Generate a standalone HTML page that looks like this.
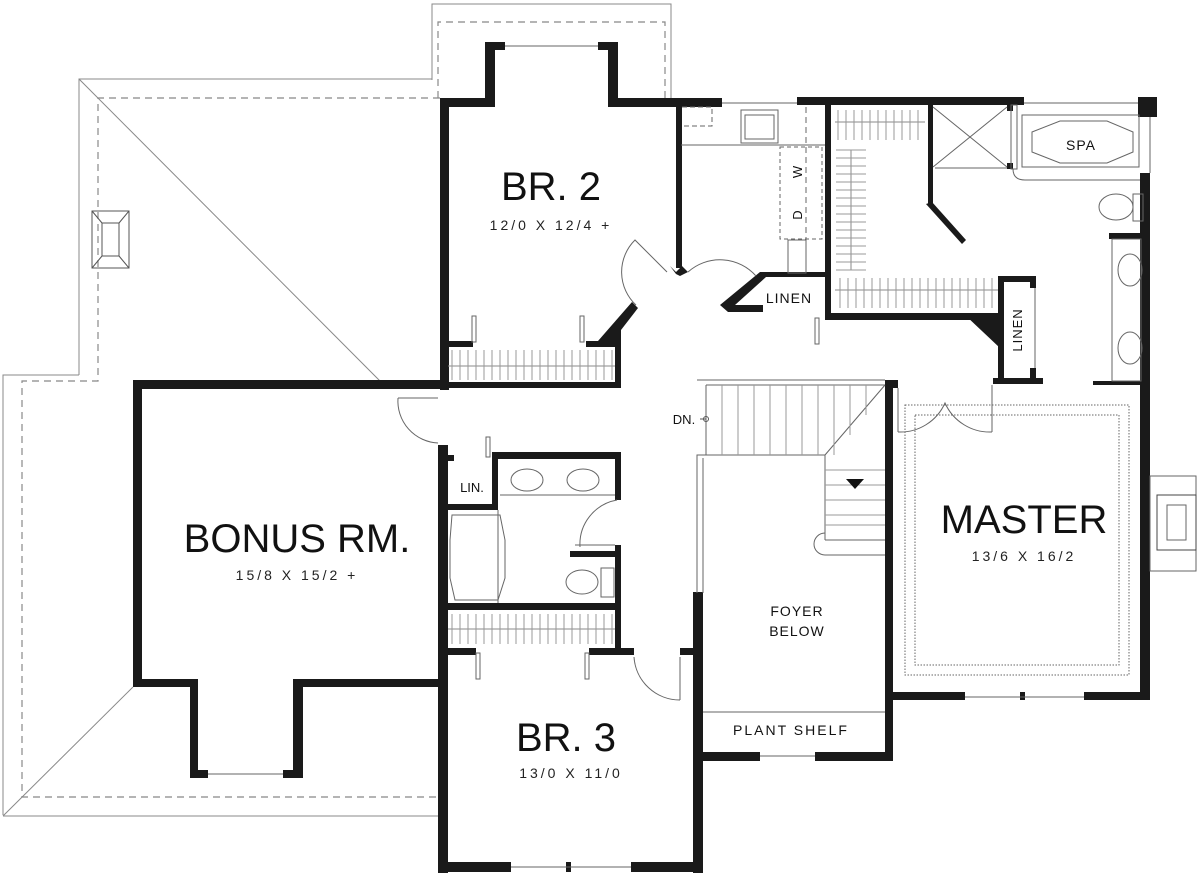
<!DOCTYPE html>
<html><head><meta charset="utf-8"><style>
html,body{margin:0;padding:0;background:#fff;width:1200px;height:878px;overflow:hidden}
svg{display:block}
.t{font-family:"Liberation Sans",sans-serif;fill:#111}
.d{font-family:"Liberation Sans",sans-serif;fill:#222;font-size:14px;letter-spacing:3px}
</style></head><body>
<svg width="1200" height="878" viewBox="0 0 1200 878">
<g fill="none" stroke="#888" stroke-width="1">
<polyline points="432,80 432,4 671,4 671,98"/>
<polyline points="79,375 79,79 432,79"/>
<polyline points="3,815 3,375 79,375"/>
<polyline points="3,816 440,816"/>
<line x1="79" y1="79" x2="380" y2="381"/>
<line x1="3" y1="816" x2="133" y2="687"/>
</g>
<g fill="none" stroke="#888" stroke-width="1.2" stroke-dasharray="7,5">
<polyline points="438,98 438,22 665,22 665,98"/>
<polyline points="440,98 98,98 98,381 22,381 22,797 440,797"/>
</g>
<g fill="none" stroke="#555" stroke-width="1">
<rect x="92" y="211" width="37" height="57"/><rect x="102" y="223" width="17" height="33"/>
<line x1="92" y1="211" x2="102" y2="223"/><line x1="129" y1="211" x2="119" y2="223"/>
<line x1="92" y1="268" x2="102" y2="256"/><line x1="129" y1="268" x2="119" y2="256"/>
</g>
<g fill="#1a1a1a">
<rect x="440" y="98" width="9" height="292"/>
<rect x="440" y="98" width="55" height="9"/>
<rect x="485" y="42" width="10" height="65"/><rect x="485" y="42" width="20" height="8"/>
<rect x="608" y="42" width="10" height="65"/><rect x="598" y="42" width="20" height="8"/>
<rect x="608" y="98" width="114" height="9"/>
<rect x="676" y="107" width="6" height="161"/>
<rect x="440" y="382" width="180" height="6"/>
<rect x="615" y="338" width="6" height="50"/>
<rect x="448" y="341" width="25" height="6"/><rect x="586" y="341" width="30" height="6"/>
<polygon points="598,341 632,302 638,308 621,330 621,347"/>
<polygon points="670,266 676,272 682,266 688,272 680,276 676,274"/>
<rect x="133" y="380" width="312" height="9"/>
<rect x="133" y="380" width="9" height="307"/>
<rect x="133" y="679" width="65" height="8"/>
<rect x="190" y="679" width="8" height="99"/><rect x="190" y="770" width="18" height="8"/>
<rect x="293" y="679" width="10" height="99"/><rect x="283" y="770" width="20" height="8"/>
<rect x="293" y="679" width="150" height="8"/>
<rect x="438" y="445" width="10" height="428"/>
<rect x="492" y="452" width="129" height="7"/>
<rect x="615" y="452" width="6" height="48"/>
<rect x="615" y="545" width="6" height="110"/>
<rect x="570" y="551" width="51" height="6"/>
<rect x="492" y="452" width="6" height="58"/>
<rect x="448" y="504" width="50" height="6"/>
<rect x="448" y="455" width="6" height="6"/>
<rect x="448" y="603" width="173" height="7"/>
<rect x="448" y="648" width="28" height="7"/><rect x="589" y="648" width="45" height="7"/>
<rect x="680" y="648" width="14" height="7"/>
<rect x="693" y="592" width="10" height="281"/>
<rect x="440" y="862" width="71" height="10"/><rect x="566" y="862" width="5" height="10"/><rect x="631" y="862" width="72" height="10"/>
<rect x="703" y="752" width="57" height="9"/><rect x="815" y="752" width="78" height="9"/>
<rect x="885" y="380" width="8" height="381"/>
<rect x="885" y="380" width="13" height="8"/>
<rect x="993" y="378" width="50" height="6"/>
<rect x="1093" y="381" width="50" height="4"/>
<rect x="1140" y="173" width="10" height="527"/>
<rect x="893" y="692" width="72" height="8"/><rect x="1020" y="692" width="5" height="8"/><rect x="1084" y="692" width="66" height="8"/>
<rect x="1109" y="233" width="35" height="6"/>
<rect x="797" y="97" width="227" height="8"/>
<rect x="1138" y="97" width="19" height="20"/>
<rect x="825" y="105" width="6" height="215"/>
<rect x="825" y="313" width="175" height="7"/>
<polygon points="965,315 1000,315 1000,348"/>
<rect x="998" y="276" width="6" height="107"/>
<rect x="998" y="276" width="38" height="6"/>
<rect x="1030" y="276" width="6" height="12"/><rect x="1030" y="368" width="6" height="12"/>
<rect x="928" y="105" width="5" height="100"/>
<polygon points="926,204 932,202 966,240 962,244"/>
<rect x="1007" y="105" width="6" height="6"/><rect x="1007" y="163" width="6" height="6"/>
<rect x="760" y="272" width="68" height="5"/>
<polygon points="720,305 760,272 766,277 735,305 763,305 763,312 728,312"/>
</g>
<g fill="none" stroke="#666" stroke-width="1">
<line x1="681" y1="145" x2="825" y2="145"/>
<line x1="722" y1="103" x2="797" y2="103"/>
<rect x="741" y="110" width="37" height="33"/><rect x="745" y="115" width="29" height="24"/>
<rect x="780" y="147" width="42" height="92" stroke-dasharray="4,3"/>
<line x1="806" y1="107" x2="806" y2="273" stroke-dasharray="6,4"/>
<rect x="788" y="240" width="18" height="33"/>
<polyline points="682,107 712,107 712,126 682,126" stroke-dasharray="5,3"/>
<line x1="706" y1="385" x2="885" y2="385"/>
<line x1="697" y1="380" x2="885" y2="380"/>
<line x1="706" y1="385" x2="706" y2="455"/>
<line x1="885" y1="385" x2="825" y2="455"/>
<line x1="825" y1="455" x2="825" y2="540"/>
<polyline points="697,460 697,455 825,455"/>
<line x1="697" y1="455" x2="697" y2="593"/><line x1="703" y1="458" x2="703" y2="593"/>
<line x1="703" y1="712" x2="885" y2="712"/>
<line x1="825" y1="540" x2="885" y2="540"/>
<path d="M825,533 A10,10 0 0 0 825,555 L885,555"/>
<rect x="1011" y="105" width="6" height="64"/>
<rect x="1022" y="115" width="117" height="52"/>
<polygon points="1032,132 1060,121 1107,121 1133,132 1133,152 1107,163 1060,163 1032,152"/>
<path d="M1013,169 Q1013,180 1025,180 L1140,180"/>
<line x1="1150" y1="117" x2="1150" y2="173"/>
<line x1="1024" y1="103" x2="1138" y2="103"/>
<line x1="933" y1="107" x2="1007" y2="167"/><line x1="1007" y1="107" x2="933" y2="167"/>
<line x1="935" y1="168" x2="1007" y2="168"/>
<ellipse cx="1116" cy="207" rx="17" ry="13"/><rect x="1133" y="194" width="10" height="27"/>
<rect x="1112" y="239" width="29" height="142"/>
<ellipse cx="1130" cy="270" rx="12" ry="16"/><ellipse cx="1130" cy="348" rx="12" ry="16"/>
<line x1="1035" y1="288" x2="1035" y2="368"/>
<rect x="905" y="405" width="224" height="270" stroke-dasharray="1.5,1.5"/>
<rect x="915" y="415" width="204" height="250" stroke-dasharray="1.5,1.5"/>
<rect x="1150" y="476" width="46" height="95"/>
<rect x="1157" y="495" width="39" height="55" stroke="#444"/>
<rect x="1167" y="505" width="19" height="35"/>
<line x1="965" y1="697" x2="1084" y2="697"/>
<line x1="760" y1="756" x2="815" y2="756"/>
<line x1="511" y1="867" x2="631" y2="867"/>
<line x1="208" y1="774" x2="283" y2="774"/>
<line x1="505" y1="46" x2="598" y2="46"/>
<path d="M398,398 A42,42 0 0 0 438,443"/><line x1="398" y1="398" x2="438" y2="398"/>
<path d="M636,305 A45,45 0 0 1 635,240 L667,272"/>
<path d="M688,272 A48,48 0 0 1 756,276"/>
<path d="M580,547 A45,45 0 0 1 617,500"/><line x1="575" y1="545" x2="615" y2="545"/>
<path d="M634,657 A46,46 0 0 0 680,700"/><line x1="680" y1="657" x2="680" y2="700"/>
<path d="M898,432 A49,49 0 0 0 945,403 A49,49 0 0 0 992,432"/>
<line x1="898" y1="388" x2="898" y2="432"/><line x1="992" y1="385" x2="992" y2="432"/>
<polygon points="452,515 500,515 505,540 505,578 498,600 455,600 450,578 450,540"/>
<ellipse cx="527" cy="480" rx="16" ry="11"/><ellipse cx="583" cy="480" rx="16" ry="11"/>
<line x1="500" y1="495" x2="615" y2="495"/>
<ellipse cx="582" cy="582" rx="16" ry="12"/><rect x="601" y="568" width="13" height="29"/>
<line x1="498" y1="510" x2="498" y2="603"/>
<rect x="472" y="316" width="4" height="26"/><rect x="580" y="316" width="4" height="26"/>
<rect x="476" y="653" width="4" height="26"/><rect x="585" y="653" width="4" height="26"/>
<rect x="486" y="437" width="4" height="20"/>
<rect x="815" y="318" width="4" height="26"/>
</g>
<g stroke="#888" stroke-width="1">
<line x1="448" y1="366" x2="615" y2="366"/><line x1="448" y1="629" x2="615" y2="629"/>
<line x1="835" y1="122" x2="925" y2="122"/><line x1="835" y1="290" x2="998" y2="290"/>
<line x1="851" y1="150" x2="851" y2="270"/>
</g>
<g stroke="#999" stroke-width="1">
<path d="M452,350v30M460,350v30M468,350v30M476,350v30M484,350v30M492,350v30M500,350v30M508,350v30M516,350v30M524,350v30M532,350v30M540,350v30M548,350v30M556,350v30M564,350v30M572,350v30M580,350v30M588,350v30M596,350v30M604,350v30M612,350v30"/>
<path d="M452,614v30M460,614v30M468,614v30M476,614v30M484,614v30M492,614v30M500,614v30M508,614v30M516,614v30M524,614v30M532,614v30M540,614v30M548,614v30M556,614v30M564,614v30M572,614v30M580,614v30M588,614v30M596,614v30M604,614v30M612,614v30"/>
<path d="M838,110v30M846,110v30M854,110v30M862,110v30M870,110v30M878,110v30M886,110v30M894,110v30M902,110v30M910,110v30M918,110v30"/>
<path d="M840,278v30M848,278v30M856,278v30M864,278v30M872,278v30M880,278v30M888,278v30M896,278v30M904,278v30M912,278v30M920,278v30M928,278v30M936,278v30M944,278v30M952,278v30M960,278v30M968,278v30M976,278v30M984,278v30M992,278v30"/>
<path d="M836,150h30M836,158h30M836,166h30M836,174h30M836,182h30M836,190h30M836,198h30M836,206h30M836,214h30M836,222h30M836,230h30M836,238h30M836,246h30M836,254h30M836,262h30M836,270h30"/>
<path d="M722,385v70M738,385v70M754,385v70M770,385v70M786,385v70M802,385v70M818,385v70M834,385v70M850,385v50M866,385v30"/>
<path d="M825,470h60M825,485h60M825,500h60M825,515h60M825,525h60"/>
</g>
<polygon points="846,479 864,479 855,489" fill="#111"/>
<circle cx="706" cy="419" r="2.5" fill="none" stroke="#555"/><line x1="700" y1="419" x2="706" y2="419" stroke="#555"/>
<text class="t" x="551" y="200" font-size="40" text-anchor="middle">BR. 2</text>
<text class="d" x="551" y="230" text-anchor="middle">12/0 X 12/4 +</text>
<text class="t" x="297" y="552" font-size="40" text-anchor="middle">BONUS RM.</text>
<text class="d" x="297" y="580" text-anchor="middle">15/8 X 15/2 +</text>
<text class="t" x="566" y="751" font-size="40" text-anchor="middle">BR. 3</text>
<text class="d" x="571" y="778" text-anchor="middle">13/0 X 11/0</text>
<text class="t" x="1024" y="533" font-size="40" text-anchor="middle">MASTER</text>
<text class="d" x="1024" y="561" text-anchor="middle">13/6 X 16/2</text>
<text class="t" x="797" y="616" font-size="14" text-anchor="middle" letter-spacing="1">FOYER</text>
<text class="t" x="797" y="636" font-size="14" text-anchor="middle" letter-spacing="1">BELOW</text>
<text class="t" x="791" y="735" font-size="14" text-anchor="middle" letter-spacing="2">PLANT SHELF</text>
<text class="t" x="1081" y="150" font-size="14" text-anchor="middle" letter-spacing="1">SPA</text>
<text class="t" x="789" y="303" font-size="14" text-anchor="middle" letter-spacing="1">LINEN</text>
<text class="t" x="472" y="492" font-size="13" text-anchor="middle">LIN.</text>
<text class="t" x="684" y="424" font-size="13" text-anchor="middle">DN.</text>
<text class="t" font-size="13" transform="translate(1022,330) rotate(-90)" text-anchor="middle" letter-spacing="1">LINEN</text>
<text class="t" font-size="13" transform="translate(802,172) rotate(-90)" text-anchor="middle">W</text>
<text class="t" font-size="13" transform="translate(802,215) rotate(-90)" text-anchor="middle">D</text>
</svg>
</body></html>
